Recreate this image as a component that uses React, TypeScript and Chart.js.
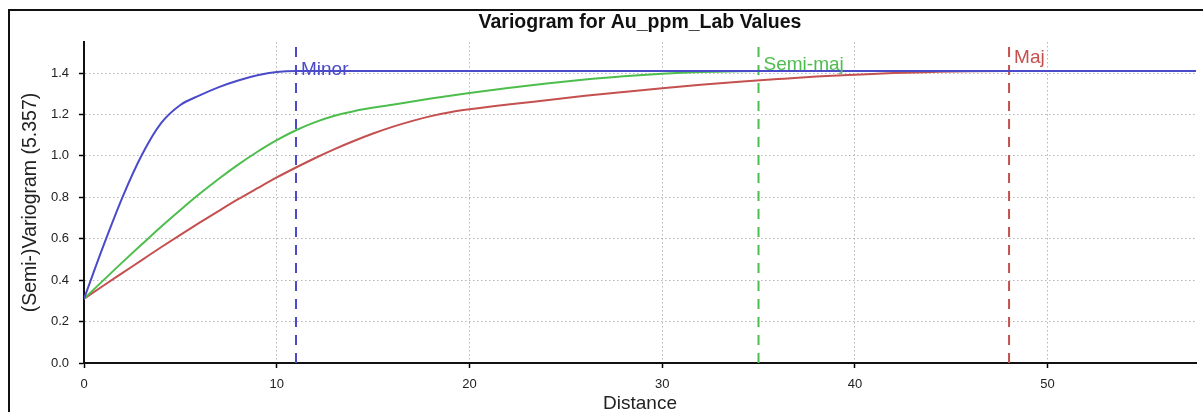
import React, { useEffect, useRef } from "react";
import { Chart, registerables } from "chart.js";

Chart.register(...registerables);

// ---- data ----
const titleText = "Variogram for Au_ppm_Lab Values";
const xTitle = "Distance";
const yTitle = "(Semi-)Variogram (5.357)";

const minorDist = [0, 1, 2, 3, 4, 5, 6, 7, 8, 9, 10, 11, 57.7];
const minorGamma = [0.31, 0.564, 0.801, 1.004, 1.158, 1.246, 1.292, 1.332, 1.364, 1.389, 1.405, 1.41, 1.41];

const semiDist = [0, 1, 2, 3, 4, 5, 6, 7, 8, 9, 10, 11, 12, 13, 14, 16, 18, 20, 22, 24, 26, 28, 30, 32, 34, 35, 57.7];
const semiGamma = [0.31, 0.399, 0.487, 0.573, 0.658, 0.739, 0.817, 0.89, 0.958, 1.02, 1.076, 1.124, 1.163, 1.194, 1.216, 1.247, 1.277, 1.304, 1.328, 1.35, 1.369, 1.385, 1.397, 1.405, 1.409, 1.41, 1.41];

const majDist = [0, 1, 2, 3, 4, 5, 6, 7, 8, 9, 10, 11, 12, 13, 14, 15, 16, 17, 18, 19, 20, 22, 24, 26, 28, 30, 32, 34, 36, 38, 40, 42, 44, 46, 48, 57.7];
const majGamma = [0.31, 0.373, 0.435, 0.497, 0.559, 0.619, 0.678, 0.735, 0.791, 0.844, 0.896, 0.944, 0.99, 1.033, 1.072, 1.108, 1.14, 1.168, 1.192, 1.211, 1.225, 1.248, 1.269, 1.29, 1.309, 1.327, 1.343, 1.358, 1.371, 1.383, 1.392, 1.4, 1.405, 1.409, 1.41, 1.41];

const markerNames = ["Minor", "Semi-maj", "Maj"];
const markerRanges = [11, 35, 48];
const markerLabelY = [1.391, 1.415, 1.449];
const markerTop = 1.53;

const seriesColors = ["#4b4bca", "#4dbe4d", "#c4504f"];

const xMin = 0;
const xMax = 57.7;
const xStep = 10;
const yMin = 0;
const yMax = 1.55;
const yStep = 0.2;

const FONT = "'Liberation Sans', Arial, Helvetica, sans-serif";

const toPts = (xs: number[], ys: number[]) => xs.map((x, i) => ({ x, y: ys[i] }));

export default function App() {
  const ref = useRef<HTMLCanvasElement | null>(null);

  useEffect(() => {
    document.body.style.overflow = "hidden";
    const canvas = ref.current;
    if (!canvas) return;

    const curveSets = [
      { data: toPts(minorDist, minorGamma), color: seriesColors[0] },
      { data: toPts(semiDist, semiGamma), color: seriesColors[1] },
      { data: toPts(majDist, majGamma), color: seriesColors[2] },
    ].map((s, i) => ({
      label: markerNames[i],
      data: s.data,
      showLine: true,
      borderColor: s.color,
      backgroundColor: s.color,
      borderWidth: 2,
      pointRadius: 0,
      cubicInterpolationMode: "monotone" as const,
      order: i,
    }));

    const markerSets = markerRanges.map((r, i) => ({
      label: markerNames[i] + " range",
      data: [
        { x: r, y: yMin },
        { x: r, y: markerTop },
      ],
      showLine: true,
      borderColor: seriesColors[i],
      borderWidth: 2,
      borderDash: [10, 8],
      pointRadius: 0,
      order: 5 + i,
    }));

    const overlay = {
      id: "overlay",
      afterDatasetsDraw(chart: any) {
        const { ctx, chartArea, scales } = chart;
        ctx.save();
        // marker labels
        ctx.font = `19px ${FONT}`;
        ctx.textAlign = "left";
        ctx.textBaseline = "alphabetic";
        markerNames.forEach((name, i) => {
          ctx.fillStyle = seriesColors[i];
          ctx.fillText(name, scales.x.getPixelForValue(markerRanges[i]) + 5, scales.y.getPixelForValue(markerLabelY[i]));
        });
        // title
        ctx.font = `bold 19.5px ${FONT}`;
        ctx.fillStyle = "#111";
        ctx.textAlign = "center";
        ctx.fillText(titleText, (chartArea.left + chartArea.right) / 2, 17);
        ctx.restore();
      },
    };

    const keepSteps = (step: number) => (scale: any) => {
      scale.ticks = scale.ticks.filter((t: any) => {
        const k = t.value / step;
        return Math.abs(k - Math.round(k)) < 1e-6;
      });
    };

    const chart = new Chart(canvas, {
      type: "scatter",
      data: { datasets: [...curveSets, ...markerSets] as any },
      options: {
        animation: false,
        responsive: false,
        layout: { padding: { top: 31, right: 7, left: 0, bottom: 0 } },
        plugins: { legend: { display: false }, tooltip: { enabled: false }, title: { display: false } },
        scales: {
          x: {
            type: "linear",
            min: xMin,
            max: xMax,
            afterBuildTicks: keepSteps(xStep),
            afterFit: (s: any) => {
              s.height = 49;
            },
            ticks: {
              stepSize: xStep,
              padding: 9,
              color: "#222",
              font: { family: FONT, size: 13 },
              maxRotation: 0,
            },
            grid: {
              color: "#b5b5b5",
              lineWidth: 1,
              tickColor: "#000",
              tickLength: 5,
              tickWidth: 1.5,
              tickBorderDash: [],
            },
            border: { display: true, color: "#111", width: 2, dash: [1.5, 2.5] },
            title: {
              display: true,
              text: xTitle,
              color: "#222",
              font: { family: FONT, size: 19, lineHeight: 1 },
              padding: { top: 0, bottom: -1 },
            },
          },
          y: {
            type: "linear",
            min: yMin,
            max: yMax,
            afterBuildTicks: keepSteps(yStep),
            afterFit: (s: any) => {
              s.width = 74;
            },
            ticks: {
              stepSize: yStep,
              padding: 10,
              color: "#222",
              font: { family: FONT, size: 13 },
              callback: (v: any) => Number(v).toFixed(1),
            },
            grid: {
              color: "#b5b5b5",
              lineWidth: 1,
              tickColor: "#000",
              tickLength: 5,
              tickWidth: 1.5,
              tickBorderDash: [],
            },
            border: { display: true, color: "#111", width: 2, dash: [1.5, 2.5] },
            title: {
              display: true,
              text: yTitle,
              color: "#222",
              font: { family: FONT, size: 19.5, lineHeight: 1 },
              padding: { top: 11, bottom: 0 },
            },
          },
        },
      },
      plugins: [overlay],
    });

    return () => chart.destroy();
  }, []);

  return (
    <div
      style={{
        position: "absolute",
        left: 8,
        top: 9,
        width: 1195,
        height: 403,
        boxSizing: "border-box",
        borderTop: "2px solid #111",
        borderLeft: "2px solid #111",
        background: "#fff",
        overflow: "hidden",
      }}
    >
      <canvas ref={ref} width={1193} height={401} style={{ display: "block", width: 1193, height: 401 }} />
    </div>
  );
}
